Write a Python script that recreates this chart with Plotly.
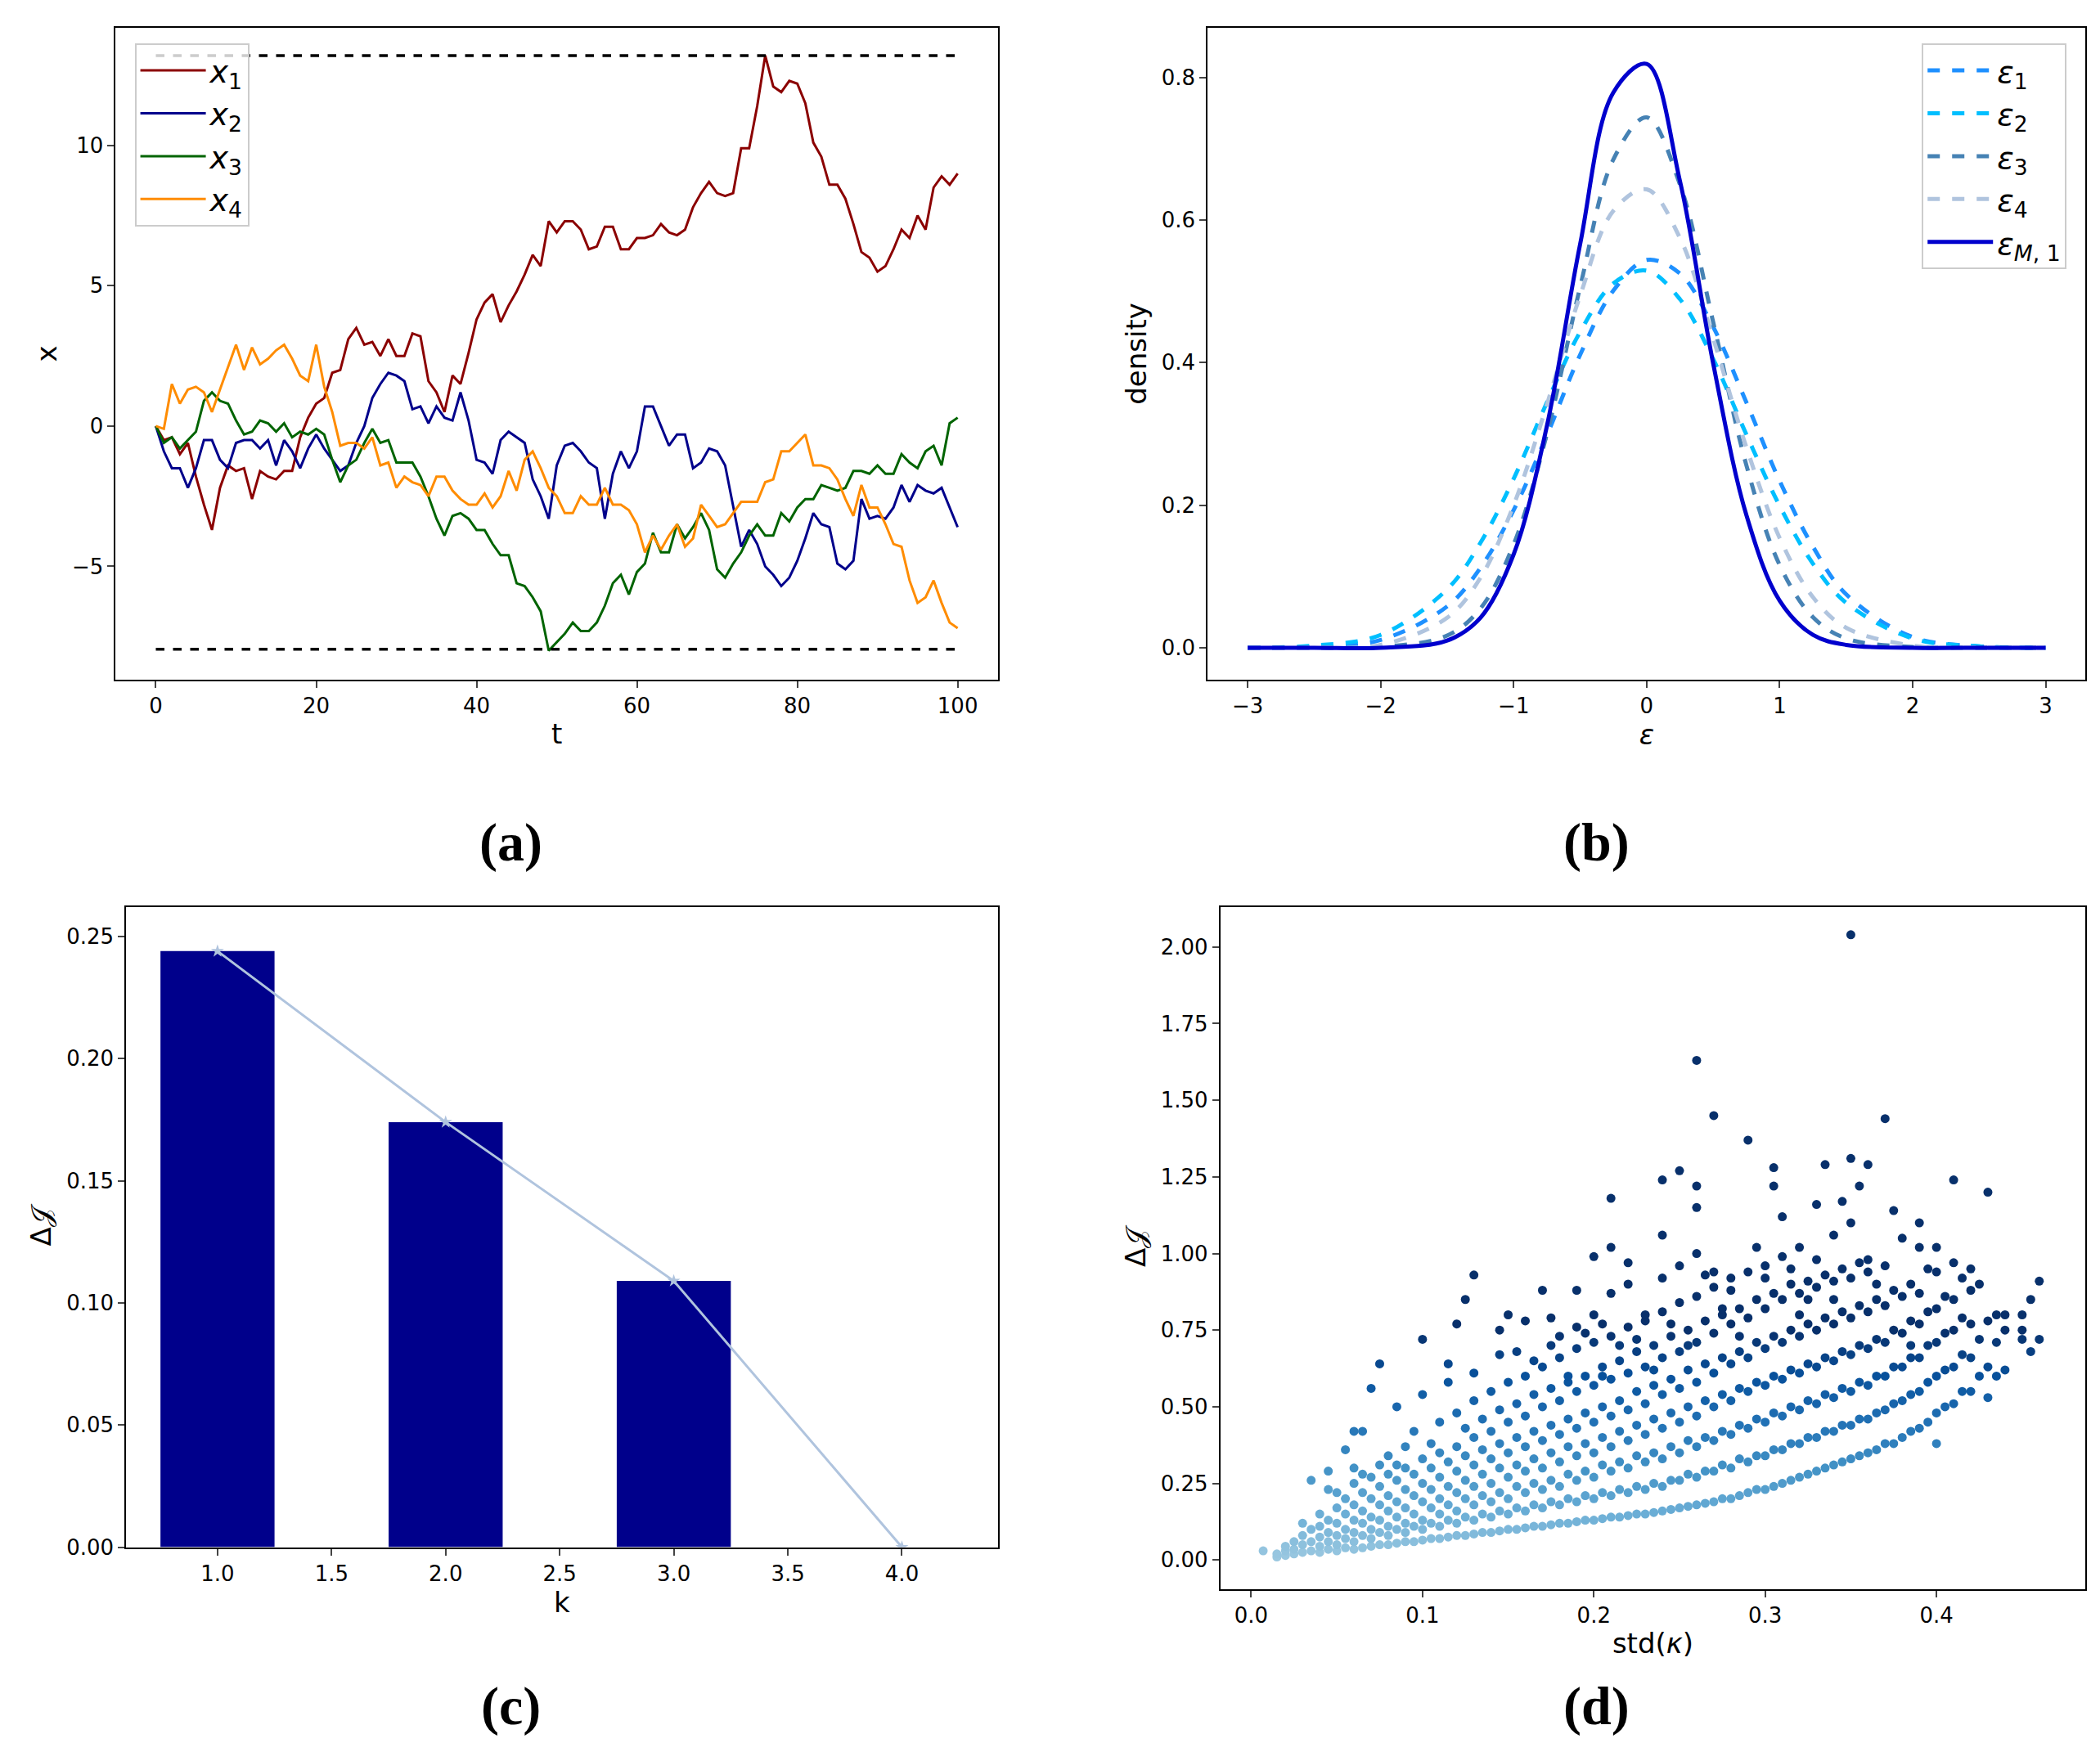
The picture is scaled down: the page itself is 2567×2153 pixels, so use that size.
import plotly.graph_objects as go

W, H = 2567, 2153
t = list(range(101))
x1 = [0,-0.5,-0.4,-1.0,-0.6,-1.8,-2.8,-3.7,-2.2,-1.4,-1.6,-1.5,-2.6,-1.6,-1.8,-1.9,-1.6,-1.6,-0.4,0.3,0.8,1.0,1.9,2.0,3.1,3.5,2.9,3.0,2.5,3.1,2.5,2.5,3.3,3.2,1.6,1.2,0.5,1.8,1.5,2.6,3.8,4.4,4.7,3.7,4.3,4.8,5.4,6.1,5.7,7.3,6.9,7.3,7.3,7.0,6.3,6.4,7.1,7.1,6.3,6.3,6.7,6.7,6.8,7.2,6.9,6.8,7.0,7.8,8.3,8.7,8.3,8.2,8.3,9.9,9.9,11.4,13.2,12.1,11.9,12.3,12.2,11.5,10.1,9.6,8.6,8.6,8.1,7.2,6.2,6.0,5.5,5.7,6.3,7.0,6.7,7.5,7.0,8.5,8.9,8.6,9.0]
x2 = [0,-0.9,-1.5,-1.5,-2.2,-1.5,-0.5,-0.5,-1.2,-1.5,-0.6,-0.5,-0.5,-0.8,-0.5,-1.4,-0.5,-0.9,-1.5,-0.8,-0.3,-0.8,-1.2,-1.6,-1.4,-0.6,0.0,1.0,1.5,1.9,1.8,1.6,0.6,0.7,0.1,0.7,0.3,0.2,1.2,0.2,-1.2,-1.3,-1.7,-0.5,-0.2,-0.4,-0.6,-1.9,-2.5,-3.3,-1.4,-0.7,-0.6,-0.9,-1.3,-1.5,-3.3,-1.7,-0.9,-1.5,-0.9,0.7,0.7,0.0,-0.7,-0.3,-0.3,-1.5,-1.3,-0.8,-0.9,-1.4,-2.9,-4.3,-3.7,-4.2,-5.0,-5.3,-5.7,-5.4,-4.8,-4.0,-3.1,-3.5,-3.6,-4.9,-5.1,-4.8,-2.6,-3.3,-3.2,-3.3,-2.9,-2.1,-2.7,-2.1,-2.3,-2.4,-2.2,-2.9,-3.6]
x3 = [0,-0.6,-0.4,-0.8,-0.5,-0.2,0.9,1.2,0.9,0.8,0.2,-0.3,-0.2,0.2,0.1,-0.2,0.1,-0.4,-0.2,-0.3,-0.1,-0.3,-1.2,-2.0,-1.4,-1.2,-0.6,-0.1,-0.6,-0.5,-1.3,-1.3,-1.3,-1.8,-2.5,-3.3,-3.9,-3.2,-3.1,-3.3,-3.7,-3.7,-4.2,-4.6,-4.6,-5.6,-5.7,-6.1,-6.6,-8.0,-7.7,-7.4,-7.0,-7.3,-7.3,-7.0,-6.4,-5.6,-5.3,-6.0,-5.2,-4.9,-3.8,-4.5,-4.5,-3.5,-4.0,-3.6,-3.1,-3.7,-5.1,-5.4,-4.9,-4.5,-3.9,-3.5,-3.9,-3.9,-3.1,-3.4,-2.9,-2.6,-2.6,-2.1,-2.2,-2.3,-2.2,-1.6,-1.6,-1.7,-1.4,-1.7,-1.7,-1.0,-1.3,-1.5,-0.9,-0.7,-1.4,0.1,0.3]
x4 = [0,-0.1,1.5,0.8,1.3,1.4,1.2,0.5,1.3,2.1,2.9,2.0,2.8,2.2,2.4,2.7,2.9,2.4,1.8,1.6,2.9,1.4,0.5,-0.7,-0.6,-0.6,-0.8,-0.4,-1.4,-1.3,-2.2,-1.8,-2.0,-2.1,-2.5,-1.8,-1.8,-2.3,-2.6,-2.8,-2.8,-2.4,-2.9,-2.5,-1.6,-2.3,-1.2,-0.9,-1.5,-2.2,-2.5,-3.1,-3.1,-2.5,-2.8,-2.8,-2.2,-2.8,-2.8,-3.0,-3.5,-4.5,-3.9,-4.4,-3.9,-3.5,-4.3,-4.0,-2.8,-3.2,-3.6,-3.5,-3.1,-2.7,-2.7,-2.7,-2.0,-1.9,-0.9,-0.9,-0.6,-0.3,-1.4,-1.4,-1.5,-1.9,-2.6,-3.2,-2.1,-2.9,-2.9,-3.5,-4.2,-4.3,-5.5,-6.3,-6.1,-5.5,-6.3,-7.0,-7.2]
bounds = [13.2, -7.95]
bounds_t = [0, 100]

eps_x = [-3,-2.5,-2,-1.5,-1.25,-1,-0.75,-0.5,-0.25,0,0.25,0.5,0.75,1,1.25,1.5,2,2.5,3]
eps1 = [0,0.001,0.011,0.058,0.112,0.193,0.298,0.411,0.501,0.544,0.525,0.450,0.344,0.234,0.142,0.075,0.015,0.002,0]
eps2 = [0,0.003,0.018,0.082,0.147,0.237,0.344,0.443,0.511,0.529,0.489,0.405,0.299,0.199,0.118,0.063,0.013,0.002,0]
eps3 = [0,0,0.001,0.017,0.055,0.145,0.300,0.506,0.685,0.744,0.650,0.457,0.256,0.116,0.043,0.013,0.001,0,0]
eps4 = [0,0,0.004,0.042,0.098,0.200,0.341,0.494,0.613,0.643,0.575,0.434,0.281,0.154,0.071,0.028,0.003,0,0]
epsM = [0,0,0,0.010,0.042,0.131,0.311,0.566,0.779,0.819,0.655,0.399,0.186,0.066,0.018,0.004,0,0,0]

k_bar = [1, 2, 3]
dJ_bar = [0.244, 0.174, 0.109]
k_line = [1, 2, 3, 4]
dJ_line = [0.244, 0.174, 0.109, 0.0]

cols = {
0.007:[0.03],0.015:[.01,.02],0.02:[.015,.03,.045],0.025:[.02,.035,.06],0.03:[.025,.05,.08,.12],0.035:[.03,.06,.1,.26],
0.04:[.025,.045,.075,.11,.15],0.045:[.035,.06,.09,.13,.29,.23],0.05:[.03,.05,.08,.12,.17,.22],0.055:[.04,.07,.1,.15,.2,.36],
0.06:[.035,.06,.09,.13,.18,.25,.42,.3],0.065:[.04,.08,.12,.16,.22,.42,.28],0.07:[.045,.07,.1,.14,.2,.27,.56],0.075:[.05,.09,.13,.18,.24,.31,.64],
0.08:[.05,.08,.11,.16,.21,.28,.34],0.085:[.055,.1,.14,.19,.26,.5,.31],0.09:[.06,.09,.12,.17,.23,.3,.37],0.095:[.06,.11,.15,.21,.28,.42],
0.10:[.065,.1,.13,.19,.25,.33,.72,.54],0.105:[.07,.12,.17,.23,.3,.38],0.11:[.07,.11,.15,.2,.27,.35,.45],0.115:[.075,.13,.18,.24,.32,.64,.58],
0.12:[.08,.12,.16,.22,.29,.37,.48,.77],0.125:[.08,.14,.2,.26,.34,.43,.85],0.13:[.085,.13,.18,.24,.31,.4,.52,.93,.61],0.135:[.09,.15,.21,.28,.36,.46],
0.14:[.09,.14,.19,.25,.33,.42,.55],0.145:[.095,.16,.22,.3,.38,.49,.75,.67],0.15:[.1,.15,.2,.27,.35,.45,.58,.8],0.155:[.1,.17,.24,.31,.4,.51,.68],
0.16:[.105,.16,.22,.29,.37,.47,.6,.78],0.165:[.11,.18,.25,.33,.42,.54,.65],0.17:[.11,.17,.23,.3,.39,.5,.63,.88],0.175:[.115,.19,.26,.35,.44,.56,.7,.79],
0.18:[.12,.18,.24,.32,.41,.52,.66,.73],0.185:[.12,.2,.28,.37,.46,.58,.6],0.19:[.125,.19,.26,.34,.43,.55,.69,.88,.76],0.195:[.13,.21,.29,.38,.48,.6,.74],
0.20:[.13,.2,.27,.35,.45,.57,.71,.99,.8],0.205:[.135,.22,.31,.4,.5,.63,.77,.6],0.21:[.14,.21,.29,.37,.47,.59,.73,1.18,1.02,.87],0.215:[.14,.23,.32,.42,.52,.65,.7],
0.22:[.145,.22,.3,.39,.49,.61,.76,.9,.97],0.225:[.15,.24,.34,.44,.55,.68,.72],0.23:[.15,.23,.32,.41,.51,.63,.78,.8],0.235:[.155,.25,.35,.46,.57,.7,.62],
0.24:[.16,.24,.33,.43,.54,.66,.81,1.06,1.24,.92],0.245:[.165,.26,.37,.48,.59,.73,.77],0.25:[.17,.26,.35,.45,.56,.68,.84,1.27,.96],0.255:[.175,.28,.39,.5,.62,.75,.7],
0.26:[.18,.27,.37,.47,.58,.71,.86,1.0,1.63,1.15,1.22],0.265:[.185,.29,.4,.52,.64,.78,.93],0.27:[.19,.29,.39,.5,.61,.74,.89,1.45,.94],0.275:[.2,.31,.42,.54,.66,.8,.82],
0.28:[.2,.3,.41,.52,.64,.77,.92,.88],0.285:[.21,.33,.44,.56,.68,.82,.73],0.29:[.22,.32,.43,.55,.66,.79,.94,1.37],0.295:[.23,.34,.46,.58,.71,.85,1.02],
0.30:[.23,.34,.45,.57,.69,.82,.96,.92],0.305:[.24,.36,.48,.6,.73,.87,1.28,1.22],0.31:[.25,.36,.47,.59,.71,.85,.99,1.12],0.315:[.26,.38,.5,.62,.75,.9,.95],
0.32:[.27,.38,.49,.61,.73,.87,1.02,.8],0.325:[.28,.4,.52,.64,.77,.91,.85],0.33:[.29,.4,.51,.63,.75,.89,1.16,.98],0.335:[.3,.42,.54,.66,.79,.93,1.29],
0.34:[.31,.42,.53,.65,.77,.91,1.06,.85],0.345:[.32,.44,.56,.68,.81,.95,1.17],0.35:[.33,.44,.55,.67,.79,.92,1.31,2.04,1.1],0.355:[.34,.46,.58,.7,.83,.97,1.22],
0.36:[.35,.46,.57,.69,.81,.94,1.29,.98],0.365:[.36,.48,.6,.72,.85,.9],0.37:[.38,.49,.6,.71,.83,.96,1.44],0.375:[.38,.51,.63,.75,.88,1.14],
0.38:[.4,.52,.63,.74,.86,1.05],0.385:[.42,.54,.66,.78,.9,.7],0.39:[.43,.55,.66,.77,.87,1.1,1.02],0.395:[.45,.58,.7,.81,.95],
0.40:[.38,.48,.6,.71,.82,1.02,.94],0.405:[.5,.62,.74,.86],0.41:[.51,.63,.75,.85,1.24,.97],0.415:[.55,.67,.79,.92],
0.42:[.55,.66,.77,.95,.88],0.425:[.6,.72,.9],0.43:[.53,.63,.78,1.2],0.435:[.6,.8,.71],0.44:[.62,.75,.8],
0.45:[.72,.8,.75],0.455:[.85,.68],0.46:[.72,.91]}
sx = [x for x, ys in cols.items() for _ in ys]
sy = [y for ys in cols.values() for y in ys]

fig = go.Figure()
FONT = "DejaVu Sans"
tf = dict(size=26, family=FONT, color="black")

def ax(dom, **kw):
    d = dict(domain=dom, showline=True, mirror=True, linecolor="black", linewidth=2,
             ticks="outside", ticklen=8, tickwidth=2, tickfont=tf, showgrid=False, zeroline=False)
    d.update(kw)
    return d

for y, nm, c in [(x1,"<i>x</i><sub>1</sub>","#8b0000"),(x2,"<i>x</i><sub>2</sub>","#00008b"),
                 (x3,"<i>x</i><sub>3</sub>","#006400"),(x4,"<i>x</i><sub>4</sub>","#ff8c00")]:
    fig.add_trace(go.Scatter(x=t, y=y, name=nm, mode="lines", line=dict(color=c, width=3),
                             xaxis="x", yaxis="y", legend="legend"))
for b in bounds:
    fig.add_trace(go.Scatter(x=bounds_t, y=[b, b], mode="lines", showlegend=False,
                             line=dict(color="black", width=3.5, dash="dash"), xaxis="x", yaxis="y"))
for y, nm, c, dsh in [(eps1,"<i>ε</i><sub>1</sub>","#1e90ff","dash"),(eps2,"<i>ε</i><sub>2</sub>","#00bfff","dash"),
                      (eps3,"<i>ε</i><sub>3</sub>","#4682b4","dash"),(eps4,"<i>ε</i><sub>4</sub>","#b0c4de","dash"),
                      (epsM,"<i>ε</i><sub><i>M</i>, 1</sub>","#0000cd","solid")]:
    fig.add_trace(go.Scatter(x=eps_x, y=y, name=nm, mode="lines", line=dict(color=c, width=5, dash=dsh, shape="spline", smoothing=1.0),
                             xaxis="x2", yaxis="y2", legend="legend2"))
fig.add_trace(go.Bar(x=k_bar, y=dJ_bar, width=0.5, marker=dict(color="#00008b", line=dict(width=0)),
                     showlegend=False, xaxis="x3", yaxis="y3"))
fig.add_trace(go.Scatter(x=k_line, y=dJ_line, mode="lines+markers", showlegend=False,
                         line=dict(color="#b0c4de", width=3), marker=dict(symbol="star", size=12, color="#b0c4de"),
                         xaxis="x3", yaxis="y3"))
fig.add_trace(go.Scatter(x=sx, y=sy, mode="markers", showlegend=False,
                         marker=dict(size=11, color=sy, colorscale="Blues", cmin=-0.45, cmax=0.75),
                         xaxis="x4", yaxis="y4"))

ttl = lambda s: dict(text=s, font=dict(size=34, family=FONT, color="black"), standoff=8)
fig.update_layout(
    width=W, height=H, paper_bgcolor="white", plot_bgcolor="white",
    margin=dict(l=0, r=0, t=0, b=0),
    xaxis=ax([0.052, 0.472], anchor="y", range=[-5, 105], tickvals=[0,20,40,60,80,100], title=ttl("t")),
    yaxis=ax([0.615, 0.988], anchor="x", range=[-9.04, 14.2], tickvals=[-5,0,5,10],
             ticktext=["−5","0","5","10"], title=ttl("x")),
    xaxis2=ax([0.572, 0.990], anchor="y2", range=[-3.3, 3.3], tickvals=[-3,-2,-1,0,1,2,3],
              ticktext=["−3","−2","−1","0","1","2","3"], title=ttl("<i>ε</i>")),
    yaxis2=ax([0.615, 0.988], anchor="x2", range=[-0.045, 0.87], tickvals=[0,0.2,0.4,0.6,0.8],
              tickformat=".1f", title=ttl("density")),
    xaxis3=ax([0.057, 0.472], anchor="y3", range=[0.6, 4.42], tickvals=[1,1.5,2,2.5,3,3.5,4],
              tickformat=".1f", title=ttl("k")),
    yaxis3=ax([0.119, 0.485], anchor="x3", range=[0, 0.262], tickvals=[0,0.05,0.1,0.15,0.2,0.25],
              tickformat=".2f", title=ttl("Δ𝒥")),
    xaxis4=ax([0.578, 0.990], anchor="y4", range=[-0.018, 0.487], tickvals=[0,0.1,0.2,0.3,0.4],
              tickformat=".1f", title=ttl("std(<i>κ</i>)")),
    yaxis4=ax([0.095, 0.485], anchor="x4", range=[-0.095, 2.13], tickvals=[0,0.25,0.5,0.75,1,1.25,1.5,1.75,2],
              tickformat=".2f", title=ttl("Δ𝒥")),
    legend=dict(x=0.061, y=0.979, xanchor="left", yanchor="top", font=dict(size=38, family=FONT, color="black"),
                bgcolor="rgba(255,255,255,0.8)", bordercolor="#cccccc", borderwidth=2, itemwidth=80, tracegroupgap=4),
    legend2=dict(x=0.981, y=0.979, xanchor="right", yanchor="top", font=dict(size=38, family=FONT, color="black"),
                 bgcolor="rgba(255,255,255,0.8)", bordercolor="#cccccc", borderwidth=2, itemwidth=80),
)
for x, y, s in [(0.240, 1-1029/H, "(a)"), (0.757, 1-1029/H, "(b)"), (0.240, 1-2093/H, "(c)"), (0.757, 1-2093/H, "(d)")]:
    fig.add_annotation(x=x, y=y, xref="paper", yref="paper", yanchor="middle", xanchor="center",
                       text=f"<b>{s}</b>", showarrow=False,
                       font=dict(size=66, family="Liberation Serif", color="black"))
fig.write_html("out.html")
